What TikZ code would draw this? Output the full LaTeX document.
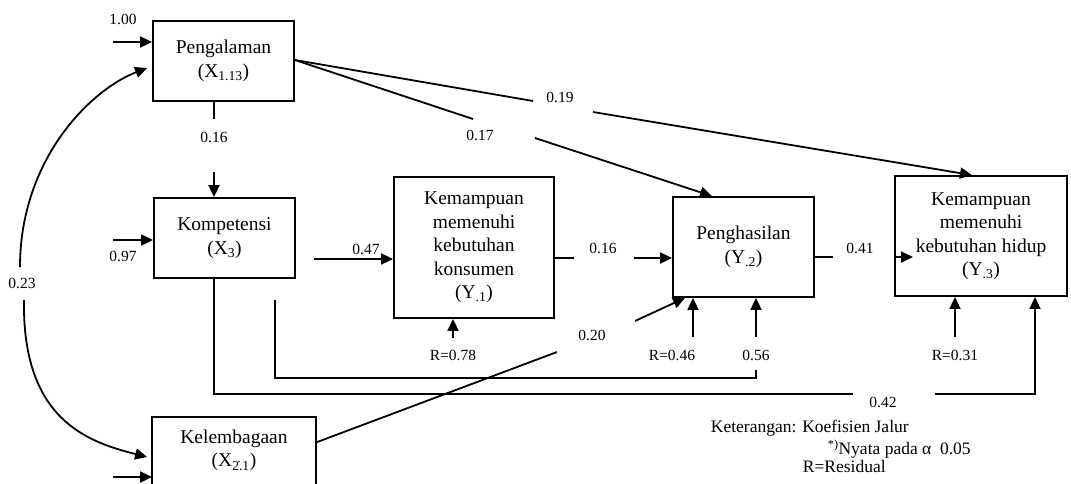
\documentclass[tikz,border=0pt]{standalone}
\usepackage{fontspec}
\setmainfont{Liberation Serif}
\usetikzlibrary{arrows.meta,calc}
\begin{document}
\begin{tikzpicture}[x=1pt,y=-1pt,
  line width=1.8pt,
  arr/.style={-{Triangle[length=12pt,width=11pt]}},
  box/.style={draw,line width=1.8pt,align=center,inner sep=0pt,
    font=\fontsize{19.5}{23.5}\selectfont},
  lbl/.style={font=\fontsize{15.5}{18}\selectfont,inner sep=0pt},
  leg/.style={font=\fontsize{17.5}{20}\selectfont,inner sep=0pt,anchor=west}]
\useasboundingbox (0,0) rectangle (1071,483);
\fill[white] (0,0) rectangle (1071,483);

% boxes
\node[box,minimum width=141pt,minimum height=80pt] (peng) at (223.5,61) {Pengalaman\\(X\textsubscript{1.13})};
\node[box,minimum width=141pt,minimum height=80pt] (komp) at (224.5,238) {Kompetensi\\(X\textsubscript{3})};
\node[box,minimum width=160pt,minimum height=141pt] (y1) at (474,247.5) {Kemampuan\\memenuhi\\kebutuhan\\konsumen\\(Y\textsubscript{.1})};
\node[box,minimum width=141pt,minimum height=100pt] (y2) at (743.5,247) {Penghasilan\\(Y\textsubscript{.2})};
\node[box,minimum width=172pt,minimum height=120pt] (y3) at (981,236) {Kemampuan\\memenuhi\\kebutuhan hidup\\(Y\textsubscript{.3})};
\node[box,draw=none,minimum width=162pt,minimum height=65pt] (kel) at (234,450.5) {Kelembagaan\\(X\textsubscript{2̇.1})};
\draw (kel.south west) -- (kel.north west) -- (kel.north east) -- (kel.south east);

% exogenous inputs
\coordinate (e1) at (113,42);
\draw[arr] (e1) -- (e1 -| peng.west);
\node[lbl] at (123,19) {1.00};
\coordinate (e3) at (113,240);
\draw[arr] (e3) -- (e3 -| komp.west);
\node[lbl] at (123,256) {0.97};
\coordinate (e2) at (113,477);
\draw[arr] (e2) -- (e2 -| kel.west);

% correlation 0.23
\coordinate (c1) at (20,267);
\coordinate (c2) at (24,300);
\draw[arr] (c1) .. controls (20,160) and (90,90) .. ([xshift=-5pt,yshift=-7pt]peng.west);
\draw[arr] (c2) .. controls (22,420) and (88,442) .. ([xshift=-5pt,yshift=-6.5pt]kel.west);
\node[lbl] at (22,283) {0.23};

% Pengalaman -> Kompetensi
\coordinate (p16a) at (214,119);
\coordinate (p16b) at (214,172);
\draw (p16a |- peng.south) -- (p16a);
\draw[arr] (p16b) -- (p16b |- komp.north);
\node[lbl] at (214,137) {0.16};

% Kompetensi -> Y1
\coordinate (k47) at (314,259);
\draw[arr] (k47) -- (k47 -| y1.west);
\node[lbl] at (366,249) {0.47};

% Y1 -> Y2
\coordinate (a16) at (574,258);
\coordinate (b16) at (634,258);
\draw (a16 -| y1.east) -- (a16);
\draw[arr] (b16) -- (b16 -| y2.west);
\node[lbl] at (603,248) {0.16};

% Y2 -> Y3
\coordinate (a41) at (833,257);
\coordinate (t41) at (913,257);
\draw (a41 -| y2.east) -- (a41);
\draw[arr] (t41 -| y3.west) -- (t41);
\node[lbl] at (860,248) {0.41};

% residuals
\coordinate (r78) at (453,338);
\draw[arr] (r78) -- (r78 |- y1.south);
\node[lbl] at (453,355) {R=0.78};
\coordinate (r46) at (693,337);
\draw[arr] (r46) -- (r46 |- y2.south);
\node[lbl] at (672,355) {R=0.46};
\coordinate (r56) at (756,337);
\draw[arr] (r56) -- (r56 |- y2.south);
\node[lbl] at (756,355) {0.56};
\coordinate (r31) at (955,337);
\draw[arr] (r31) -- (r31 |- y3.south);
\node[lbl] at (955,355) {R=0.31};

% bracket line under Y1
\coordinate (s1) at (275,300);
\coordinate (s2) at (756,370);
\draw (s1) -- (s1 |- 0,378) -- (s2 |- 0,378) -- (s2);

% Kompetensi -> Y3 (0.42)
\coordinate (k42) at (214,394);
\coordinate (a42) at (853,394);
\coordinate (b42) at (935,394);
\coordinate (c42) at (1035,394);
\draw (k42 |- komp.south) -- (k42) -- (a42);
\draw[arr] (b42) -- (c42) -- (c42 |- y3.south);
\node[lbl] at (883,402) {0.42};

% Kelembagaan -> Y2 (0.20)
\coordinate (a20) at (557,352);
\coordinate (b20) at (635,321);
\coordinate (t20) at (685,297);
\draw ([yshift=8pt]kel.east) -- (a20);
\draw[arr] (b20) -- (t20 |- y2.south);
\node[lbl] at (592,335) {0.20};

% Pengalaman -> Y3 (0.19)
\coordinate (a19) at (533,101);
\coordinate (b19) at (593,112);
\coordinate (t19) at (972,176);
\draw ([yshift=1pt]peng.east) -- (a19);
\draw[arr] (b19) -- (t19 |- y3.north);
\node[lbl] at (560,97) {0.19};

% Pengalaman -> Y2 (0.17)
\coordinate (a17) at (473,119);
\coordinate (b17) at (535,138);
\coordinate (t17) at (712,197);
\draw ([yshift=1pt]peng.east) -- (a17);
\draw[arr] (b17) -- (t17 |- y2.north);
\node[lbl] at (480,135) {0.17};

% legend
\node[leg] (k1) at (710,428) {Keterangan: Koefisien Jalur};
\node[leg] (k2) at (827,449) {\textsuperscript{*)}Nyata pada α\ \ 0.05};
\node[leg] (k3) at (802,467) {R=Residual};
\end{tikzpicture}
\end{document}
